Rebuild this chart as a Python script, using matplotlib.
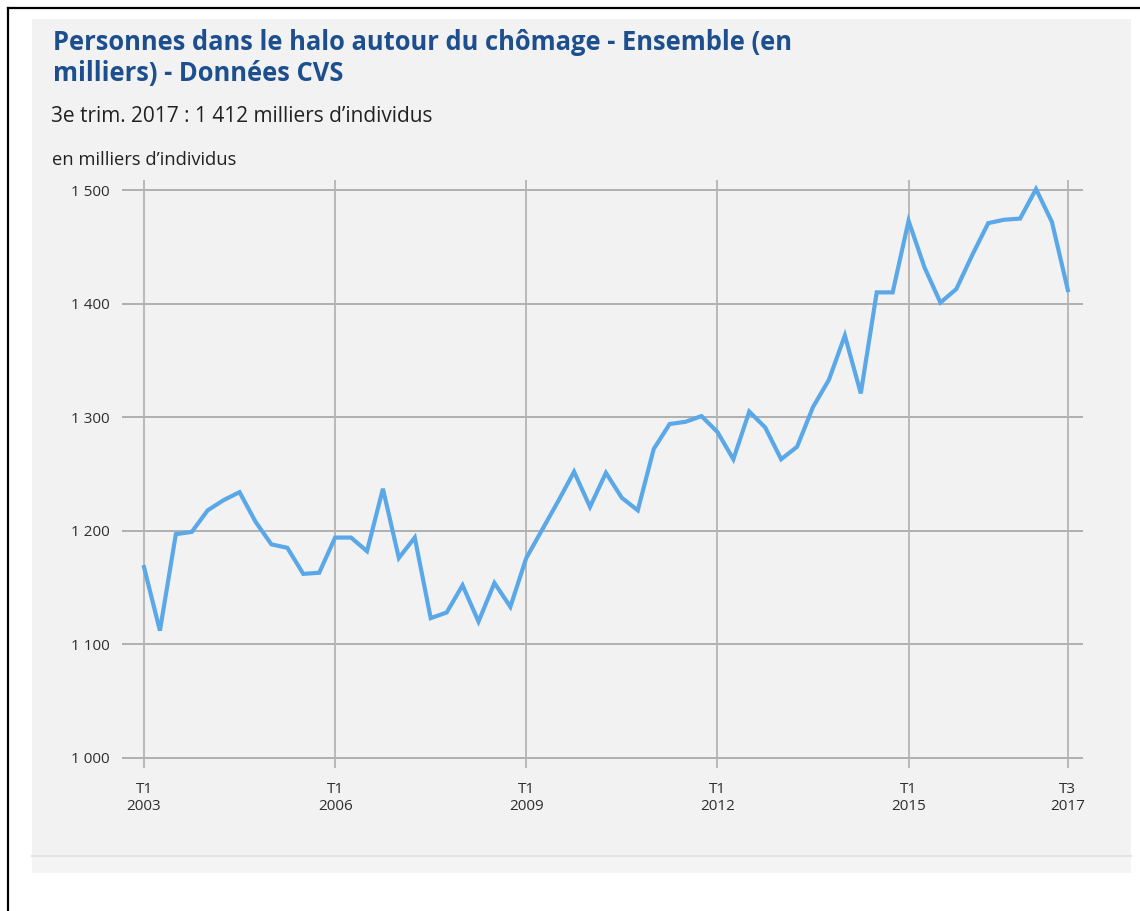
import matplotlib
matplotlib.use("Agg")
import matplotlib.pyplot as plt
from matplotlib.patches import Rectangle
from matplotlib.lines import Line2D

# quarterly series, T1 2003 .. T3 2017 (thousands)
halo = [1168, 1112, 1197, 1199, 1218, 1227, 1234, 1208, 1188, 1185,
        1162, 1163, 1194, 1194, 1182, 1237, 1176, 1194, 1123, 1128,
        1152, 1120, 1154, 1133, 1176, 1201, 1226, 1252, 1221, 1251,
        1229, 1218, 1272, 1294, 1296, 1301, 1287, 1263, 1305, 1291,
        1263, 1274, 1309, 1333, 1372, 1321, 1410, 1410, 1473, 1432,
        1401, 1413, 1443, 1471, 1474, 1475, 1501, 1472, 1412]
x_ticks = [0, 12, 24, 36, 48, 58]
x_labels = ["T1\n2003", "T1\n2006", "T1\n2009", "T1\n2012", "T1\n2015", "T3\n2017"]
y_ticks = [1000, 1100, 1200, 1300, 1400, 1500]
y_labels = ["1 000", "1 100", "1 200", "1 300", "1 400", "1 500"]

W, H = 1140, 911
plt.rcParams['font.family'] = ['Open Sans', 'DejaVu Sans']

fig = plt.figure(figsize=(W / 100, H / 100), dpi=100)
fig.patch.set_facecolor("white")

def fx(px):
    return px / W

def fy(py):
    return 1 - py / H

# grey panel and bottom strip
fig.patches.append(Rectangle((fx(32), fy(873)), fx(1131) - fx(32), fy(855) - fy(873),
                             transform=fig.transFigure, facecolor="#f4f4f4", edgecolor="none", zorder=-3))
fig.patches.append(Rectangle((fx(32), fy(855)), fx(1131) - fx(32), fy(19) - fy(855),
                             transform=fig.transFigure, facecolor="#f2f2f2", edgecolor="none", zorder=-3))
fig.lines.append(Line2D([fx(32), fx(1131)], [fy(855.5), fy(855.5)], transform=fig.transFigure,
                        color="#e4e4e4", lw=1.5, zorder=-2))
# black frame (top and left)
fig.lines.append(Line2D([fx(8), fx(1140)], [fy(8), fy(8)], transform=fig.transFigure, color="black", lw=1.6))
fig.lines.append(Line2D([fx(8), fx(8)], [fy(8), fy(911)], transform=fig.transFigure, color="black", lw=1.6))

fig.text(fx(53), fy(42), "Personnes dans le halo autour du chômage - Ensemble (en",
         fontsize=18.4, fontweight="bold", color="#1d4f8f", va="center")
fig.text(fx(53), fy(73), "milliers) - Données CVS",
         fontsize=18.4, fontweight="bold", color="#1d4f8f", va="center")
fig.text(fx(51), fy(116), "3e trim. 2017 : 1 412 milliers d’individus",
         fontsize=15, color="#222222", va="center")
fig.text(fx(52), fy(160), "en milliers d’individus",
         fontsize=13.2, color="#222222", va="center")

ax = fig.add_axes([fx(122), fy(768), fx(1083) - fx(122), fy(180) - fy(768)])
ax.set_facecolor("none")
ax.plot(range(len(halo)), halo, color="#5aa8e8", lw=3.0, solid_joinstyle="miter", zorder=3)

ax.set_xlim(-1.38, 58.95)
ax.set_ylim(991, 1509)
for v in y_ticks:
    ax.axhline(v, color="#ababab", lw=1.3, zorder=1)
for q in x_ticks:
    ax.axvline(q, color="#b4b4b4", lw=1.3, zorder=1)

ax.set_yticks(y_ticks)
ax.set_yticklabels(y_labels)
ax.set_xticks(x_ticks)
ax.set_xticklabels(x_labels)
ax.tick_params(length=0, labelsize=11, labelcolor="#2e2e2e")
ax.tick_params(axis="y", pad=9)
ax.tick_params(axis="x", pad=10)
for s in ax.spines.values():
    s.set_visible(False)

fig.savefig("out.png", dpi=100)
